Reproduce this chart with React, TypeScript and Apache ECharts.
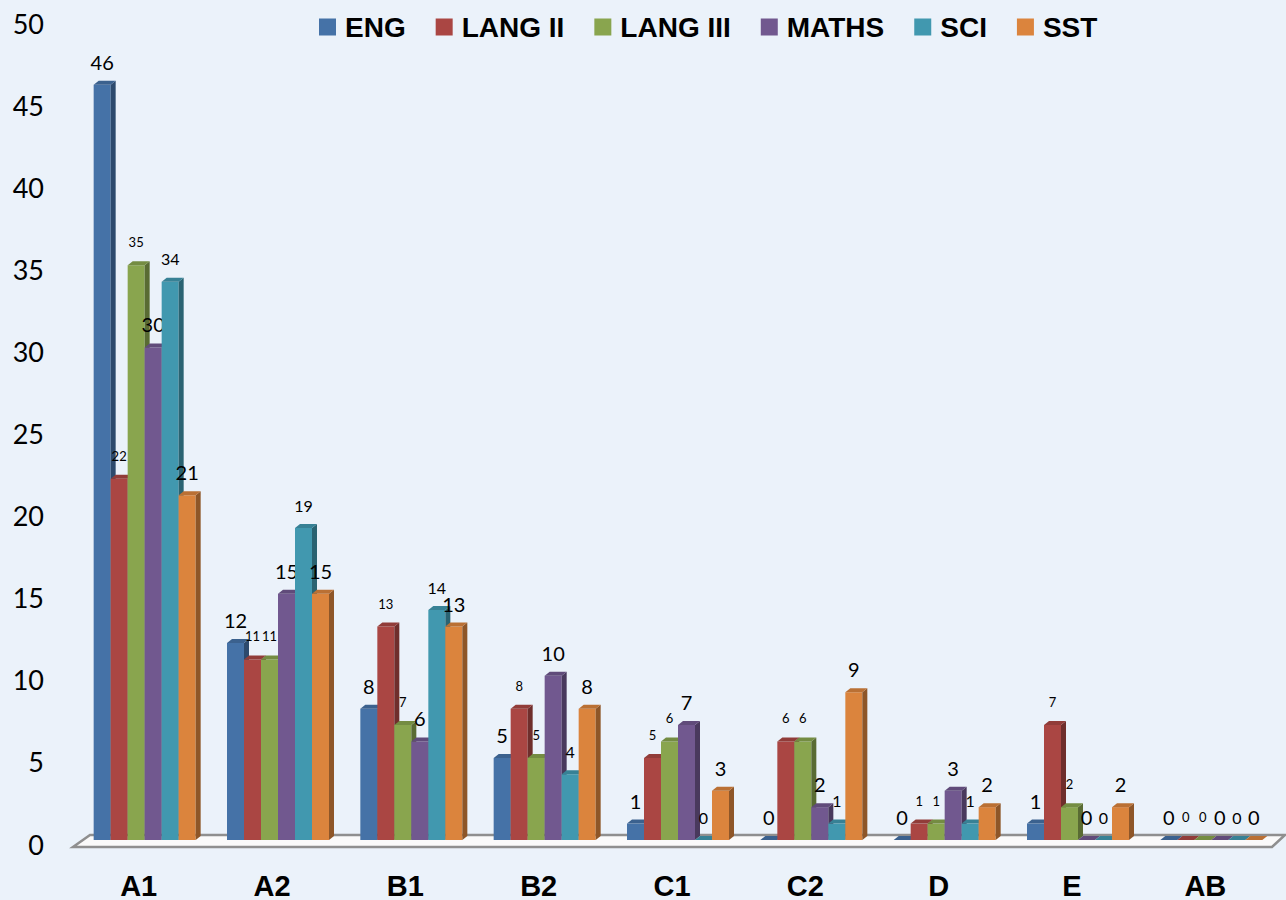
import React, { useEffect, useRef } from "react";
import * as echarts from "echarts";

const categories = ["A1", "A2", "B1", "B2", "C1", "C2", "D", "E", "AB"];
const subjects = ["ENG", "LANG II", "LANG III", "MATHS", "SCI", "SST"];
const engValues = [46, 12, 8, 5, 1, 0, 0, 1, 0];
const lang2Values = [22, 11, 13, 8, 5, 6, 1, 7, 0];
const lang3Values = [35, 11, 7, 5, 6, 6, 1, 2, 0];
const mathsValues = [30, 15, 6, 10, 7, 2, 3, 0, 0];
const sciValues = [34, 19, 14, 4, 0, 1, 1, 0, 0];
const sstValues = [21, 15, 13, 8, 3, 9, 2, 2, 0];
const yMin = 0;
const yMax = 50;
const yStep = 5;

const seriesValues = [engValues, lang2Values, lang3Values, mathsValues, sciValues, sstValues];
const colors = ["#4572A7", "#AA4643", "#89A54E", "#71588F", "#4198AF", "#DB843D"];
const labelSizes = [20, 13, 13, 20, 16, 20];

const DX = 5;
const DY = 4;

function darken(hex: string, f: number) {
  const n = parseInt(hex.slice(1), 16);
  const r = Math.round(((n >> 16) & 255) * (1 - f));
  const g = Math.round(((n >> 8) & 255) * (1 - f));
  const b = Math.round((n & 255) * (1 - f));
  return `rgb(${r},${g},${b})`;
}

function makeRender(si: number) {
  return (params: any, api: any) => {
    const ci = api.value(0);
    const v = api.value(1);
    const base = api.coord([ci, 0]);
    const top = api.coord([ci, v]);
    const band = api.size([1, 0])[0];
    const bw = (band * 0.765) / 6;
    const x0 = base[0] + (si - 3) * bw;
    const yb = base[1];
    const yt = top[1];
    const c = colors[si];
    const side = darken(c, 0.35);
    const topC = darken(c, 0.15);
    return {
      type: "group",
      children: [
        {
          type: "rect",
          shape: { x: x0, y: yt, width: bw, height: Math.max(0, yb - yt) },
          style: { fill: c },
        },
        {
          type: "polygon",
          shape: {
            points: [
              [x0 + bw, yt],
              [x0 + bw + DX, yt - DY],
              [x0 + bw + DX, yb - DY],
              [x0 + bw, yb],
            ],
          },
          style: { fill: side },
        },
        {
          type: "polygon",
          shape: {
            points: [
              [x0, yt],
              [x0 + DX, yt - DY],
              [x0 + bw + DX, yt - DY],
              [x0 + bw, yt],
            ],
          },
          style: { fill: topC },
        },
        {
          type: "text",
          style: {
            text: String(v),
            x: x0 + bw / 2,
            y: yt - 23,
            align: "center",
            verticalAlign: "middle",
            fill: "#000",
            fontFamily: "Lato, 'Open Sans', sans-serif",
            fontSize: labelSizes[si],
          },
        },
      ],
    };
  };
}

export default function App() {
  const ref = useRef<HTMLDivElement>(null);
  useEffect(() => {
    if (!ref.current) return;
    const chart = echarts.init(ref.current, undefined, { renderer: "svg" });
    const option: any = {
      animation: false,
      backgroundColor: "#ebf2fa",
      legend: {
        data: subjects,
        left: 319,
        top: 13,
        padding: 0,
        itemWidth: 17,
        itemHeight: 17,
        itemGap: 30,
        icon: "rect",
        textStyle: {
          fontFamily: "'Liberation Sans', Arial, sans-serif",
          fontSize: 28,
          fontWeight: "bold",
          color: "#000",
          padding: [0, 0, 0, 4],
        },
      },
      grid: { left: 78, right: 8, top: 19, bottom: 55, containLabel: false },
      xAxis: {
        type: "category",
        data: categories,
        axisLine: { show: false },
        axisTick: { show: false },
        splitLine: { show: false },
        axisLabel: {
          margin: 31,
          fontFamily: "'Liberation Sans', Arial, sans-serif",
          fontSize: 29,
          fontWeight: "bold",
          color: "#000",
          padding: [0, 12, 0, 0],
        },
      },
      yAxis: {
        type: "value",
        min: yMin,
        max: yMax,
        interval: yStep,
        axisLine: { show: false },
        axisTick: { show: false },
        splitLine: { show: false },
        axisLabel: {
          margin: 34,
          fontFamily: "Lato, 'Open Sans', sans-serif",
          fontSize: 27,
          color: "#000",
          verticalAlign: "top",
          lineHeight: 8,
        },
      },
      graphic: [
        {
          type: "polygon",
          z: 0,
          shape: {
            points: [
              [73, 847],
              [1272, 847],
              [1285, 835],
              [90, 835],
            ],
          },
          style: { fill: "#fafafa", stroke: "#8f8f8f", lineWidth: 2.5 },
        },
      ],
      series: subjects.map((name, si) => ({
        type: "custom",
        name,
        z: 3,
        itemStyle: { color: colors[si] },
        renderItem: makeRender(si),
        encode: { x: 0, y: 1 },
        data: seriesValues[si].map((v, i) => [i, v]),
      })),
    };
    chart.setOption(option);
    return () => chart.dispose();
  }, []);
  return (
    <div
      ref={ref}
      style={{ position: "fixed", left: 0, top: 0, width: 1286, height: 900 }}
    />
  );
}
